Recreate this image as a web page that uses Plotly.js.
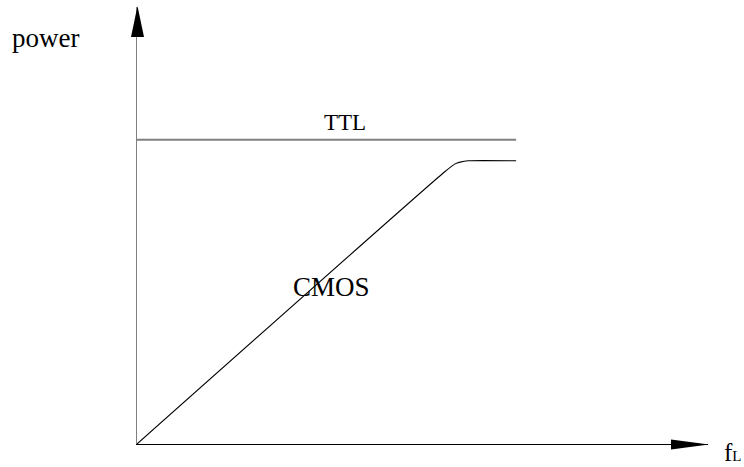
<!DOCTYPE html>
<html>
<head>
<meta charset="utf-8">
<script src="https://cdn.plot.ly/plotly-3.0.1.min.js"></script>
<style>html,body{margin:0;padding:0;background:#fff;}#chart{width:744px;height:467px;}</style>
</head>
<body>
<div id="chart"></div>
<script>
// Data (arbitrary units: frequency f_L vs power)
var ttlFreq = [0, 6.64];
var ttlPower = [6.96, 6.96];
var cmosFreq = [0, 5.39, 5.57, 5.66, 5.80, 6.64];
var cmosPower = [0, 6.23, 6.41, 6.45, 6.48, 6.48];
var seriesNames = ['TTL', 'CMOS'];

var W = 744, H = 467;
var M = {l: 137, r: 36, t: 7, b: 23};
var PW = W - M.l - M.r, PH = H - M.t - M.b;
function px(x) { return (x - M.l) / PW; }
function py(y) { return (H - M.b - y) / PH; }
function path(pts) {
  return 'M' + pts.map(function (p) { return px(p[0]) + ',' + py(p[1]); }).join(' L') + ' Z';
}

var font = 'Liberation Serif, Times New Roman, serif';

var traces = [
  {x: ttlFreq, y: ttlPower, name: seriesNames[0], mode: 'lines', type: 'scatter',
   line: {color: '#808080', width: 2}, hoverinfo: 'skip'},
  {x: cmosFreq, y: cmosPower, name: seriesNames[1], mode: 'lines', type: 'scatter',
   line: {color: '#000', width: 1.1, shape: 'spline', smoothing: 0.6}, hoverinfo: 'skip'}
];

var layout = {
  width: W, height: H,
  margin: M,
  paper_bgcolor: '#fff', plot_bgcolor: '#fff',
  showlegend: false,
  xaxis: {range: [0, 10], showgrid: false, zeroline: false, showticklabels: false, ticks: '',
          showline: true, linecolor: '#000', linewidth: 1},
  yaxis: {range: [0, 10], showgrid: false, zeroline: false, showticklabels: false, ticks: '',
          showline: true, linecolor: '#808080', linewidth: 1.5},
  shapes: [
    {type: 'path', xref: 'paper', yref: 'paper', path: path([[137.5, 6], [131, 37], [144, 37]]),
     fillcolor: '#000', line: {width: 0}},
    {type: 'path', xref: 'paper', yref: 'paper', path: path([[709, 444.5], [671, 439.5], [671, 449.5]]),
     fillcolor: '#000', line: {width: 0}}
  ],
  annotations: [
    {xref: 'paper', yref: 'paper', x: px(45), y: py(38), text: 'power', showarrow: false,
     xanchor: 'center', yanchor: 'middle', font: {family: font, size: 27, color: '#000'}},
    {xref: 'x', yref: 'y', x: 3.65, y: 7.35, text: seriesNames[0], showarrow: false,
     xanchor: 'center', yanchor: 'middle', font: {family: font, size: 23, color: '#000'}},
    {xref: 'x', yref: 'y', x: 3.4, y: 3.6, text: seriesNames[1], showarrow: false,
     xanchor: 'center', yanchor: 'middle', font: {family: font, size: 27, color: '#000'}},
    {xref: 'paper', yref: 'paper', x: px(733), y: py(452), text: 'f<span style="font-size:15px">L</span>', showarrow: false,
     xanchor: 'center', yanchor: 'middle', font: {family: font, size: 25, color: '#000'}}
  ]
};

Plotly.newPlot('chart', traces, layout, {staticPlot: true, displayModeBar: false});
</script>
</body>
</html>
